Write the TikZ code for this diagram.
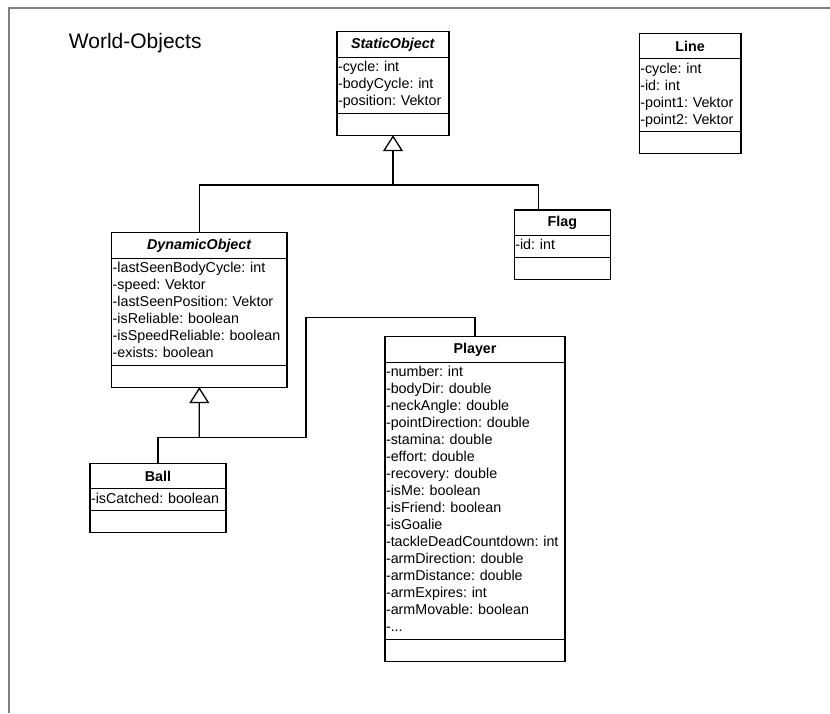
\documentclass[tikz,border=0pt]{standalone}
\usepackage{fontspec}
\setmainfont{Liberation Sans}
\usepackage{tikz}
\usetikzlibrary{positioning,arrows.meta}
\frenchspacing
\newcommand{\umlfont}{\fontsize{14.3}{17}\selectfont}
\tikzstyle{head} = [draw, rectangle, outer sep=0pt, inner sep=0pt, minimum height=25.5pt, font=\umlfont\bfseries]
\tikzstyle{attrs} = [draw, rectangle, outer sep=0pt, inner xsep=1pt, inner ysep=2.5pt, align=left, font=\umlfont, execute at begin node=\strut, execute at end node=\strut]
\tikzstyle{ops} = [draw, rectangle, outer sep=0pt, minimum height=22pt]
\tikzstyle{gen} = [-{Triangle[open,width=20pt,length=16pt]}]
\tikzstyle{frame} = [draw=black!50, line width=2pt]

\begin{document}
\begin{tikzpicture}[x=1pt, y=-1pt, node distance=0pt, line width=1.3pt]
	\useasboundingbox (0,0) rectangle (830,713);
	\draw [frame] (9,713) |- (830,8);
	\node (title) [anchor=base west, inner sep=0pt, font=\fontsize{21}{25}\selectfont] at (68.3,48) {World-Objects};
	\node (sH) [head, minimum width=112pt, anchor=north west] at (337,31.7) {\textit{StaticObject}};
	\node (sA) [attrs, text width=110pt, below=of sH] {-cycle: int\\-bodyCycle: int\\-position: Vektor};
	\node (sM) [ops, minimum width=112pt, below=of sA] {};
	\node (lH) [head, minimum width=101.7pt, anchor=north west] at (639.3,33.3) {Line};
	\node (lA) [attrs, text width=99.7pt, below=of lH] {-cycle: int\\-id: int\\-point1: Vektor\\-point2: Vektor};
	\node (lM) [ops, minimum width=101.7pt, below=of lA] {};
	\node (fH) [head, minimum width=96pt, anchor=north west] at (514.3,210) {Flag};
	\node (fA) [attrs, text width=94pt, below=of fH] {-id: int};
	\node (fM) [ops, minimum width=96pt, below=of fA] {};
	\node (dH) [head, minimum width=175.3pt, anchor=north west] at (111.7,232.7) {\textit{DynamicObject}};
	\node (dA) [attrs, text width=173.3pt, below=of dH] {-lastSeenBodyCycle: int\\-speed: Vektor\\-lastSeenPosition: Vektor\\-isReliable: boolean\\-isSpeedReliable: boolean\\-exists: boolean};
	\node (dM) [ops, minimum width=175.3pt, below=of dA] {};
	\node (bH) [head, minimum width=136pt, anchor=north west] at (90,463.3) {Ball};
	\node (bA) [attrs, text width=134pt, below=of bH] {-isCatched: boolean};
	\node (bM) [ops, minimum width=136pt, below=of bA] {};
	\node (pH) [head, minimum width=180pt, anchor=north west] at (385,336.7) {Player};
	\node (pA) [attrs, text width=178pt, below=of pH] {-number: int\\-bodyDir: double\\-neckAngle: double\\-pointDirection: double\\-stamina: double\\-effort: double\\-recovery: double\\-isMe: boolean\\-isFriend: boolean\\-isGoalie\\-tackleDeadCountdown: int\\-armDirection: double\\-armDistance: double\\-armExpires: int\\-armMovable: boolean\\-...};
	\node (pM) [ops, minimum width=180pt, below=of pA] {};
	\coordinate (jS) at (393,185);
	\coordinate (jD) at (199.3,437.7);
	\coordinate (bend) at (306,317.7);
	\coordinate (fIn) at ([xshift=24pt]fH.north west);
	\draw [gen] (jS) -- (sM.south);
	\draw (dH.north) |- (jS) -| (fIn);
	\draw [gen] (jD) -- (dM.south);
	\draw (bH.north) |- (jD) -| (bend) -| (pH.north);
\end{tikzpicture}
\end{document}
